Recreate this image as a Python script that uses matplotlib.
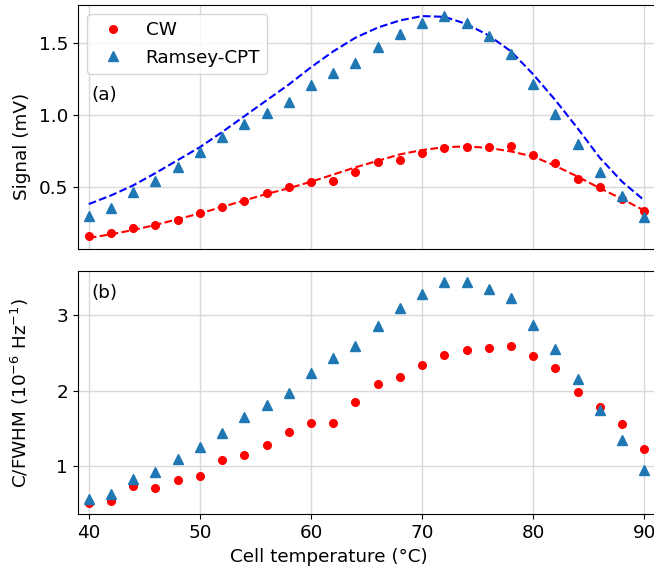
#!/usr/bin/env python3
""" signal and C/FWHM versus cell temperature, CW and Ramsey-CPT """
import matplotlib.pyplot as plt

temperature = [40, 42, 44, 46, 48, 50, 52, 54, 56, 58, 60, 62, 64,
               66, 68, 70, 72, 74, 76, 78, 80, 82, 84, 86, 88, 90]

# panel (a): signal in mV
signal_cw = [0.155, 0.178, 0.213, 0.234, 0.271, 0.317, 0.363, 0.403,
             0.456, 0.495, 0.530, 0.542, 0.606, 0.671, 0.688, 0.734,
             0.769, 0.778, 0.778, 0.785, 0.720, 0.665, 0.556, 0.500,
             0.417, 0.333]
signal_ramsey = [0.300, 0.356, 0.463, 0.537, 0.634, 0.741, 0.843, 0.938,
                 1.014, 1.088, 1.208, 1.289, 1.361, 1.470, 1.562, 1.637,
                 1.683, 1.637, 1.549, 1.424, 1.213, 1.005, 0.800, 0.606,
                 0.433, 0.292]
# fitted curves
fit_cw = [0.145, 0.170, 0.200, 0.235, 0.275, 0.315, 0.360, 0.405, 0.450,
          0.490, 0.535, 0.585, 0.635, 0.680, 0.725, 0.755, 0.775, 0.780,
          0.770, 0.745, 0.710, 0.645, 0.570, 0.490, 0.415, 0.335]
fit_ramsey = [0.380, 0.440, 0.510, 0.595, 0.685, 0.775, 0.880, 0.990,
              1.100, 1.210, 1.330, 1.440, 1.535, 1.605, 1.655, 1.685,
              1.680, 1.630, 1.550, 1.440, 1.280, 1.100, 0.905, 0.700,
              0.535, 0.405]

# panel (b): C/FWHM in 1e-6 / Hz
cfwhm_cw = [0.513, 0.544, 0.737, 0.706, 0.816, 0.877, 1.083, 1.149, 1.281,
            1.452, 1.575, 1.570, 1.851, 2.088, 2.190, 2.346, 2.470, 2.540,
            2.570, 2.596, 2.456, 2.307, 1.983, 1.790, 1.560, 1.230]
cfwhm_ramsey = [0.566, 0.636, 0.829, 0.930, 1.092, 1.254, 1.447, 1.658,
                1.807, 1.978, 2.241, 2.430, 2.592, 2.855, 3.096, 3.285,
                3.443, 3.443, 3.350, 3.237, 2.877, 2.553, 2.154, 1.750,
                1.350, 0.947]

plt.rcParams['font.size'] = 13.2

fig = plt.figure(figsize=(6.54, 5.74), dpi=100)
ax1 = fig.add_axes([0.1188, 0.5662, 0.8835, 0.4251])
ax2 = fig.add_axes([0.1188, 0.1045, 0.8835, 0.4233], sharex=ax1)

ax1.plot(temperature, fit_ramsey, '--', color='b', lw=1.5, zorder=2)
ax1.plot(temperature, fit_cw, '--', color='r', lw=1.5, zorder=2)
ax1.plot(temperature, signal_cw, 'o', color='red', ms=5.5, ls='none',
         label='CW', zorder=3)
ax1.plot(temperature, signal_ramsey, '^', color='#1f77b4', ms=6.5,
         ls='none', label='Ramsey-CPT', zorder=3)

ax2.plot(temperature, cfwhm_cw, 'o', color='red', ms=5.5, ls='none',
         zorder=3)
ax2.plot(temperature, cfwhm_ramsey, '^', color='#1f77b4', ms=6.5,
         ls='none', zorder=3)

for ax in (ax1, ax2):
    ax.grid(True, color='#d9d9d9', lw=1.0)
    ax.set_axisbelow(True)

ax1.set_xlim(39, 91)
ax1.set_yticks([0.5, 1.0, 1.5])
ax2.set_yticks([1, 2, 3])
ax2.set_xticks([40, 50, 60, 70, 80, 90])
ax1.tick_params(axis='x', labelbottom=False, length=0)

ax1.set_ylabel('Signal (mV)')
ax1.yaxis.set_label_coords(-0.08, 0.42)
ax2.set_ylabel(r'C/FWHM ($10^{-6}$ Hz$^{-1}$)')
ax2.yaxis.set_label_coords(-0.08, 0.5)
ax2.set_xlabel('Cell temperature (°C)')
ax2.xaxis.set_label_coords(0.435, -0.14)

ax1.text(0.023, 0.63, '(a)', transform=ax1.transAxes, va='center')
ax2.text(0.023, 0.908, '(b)', transform=ax2.transAxes, va='center')

ax1.legend(loc='upper left')

plt.savefig("out.png", dpi=100)
